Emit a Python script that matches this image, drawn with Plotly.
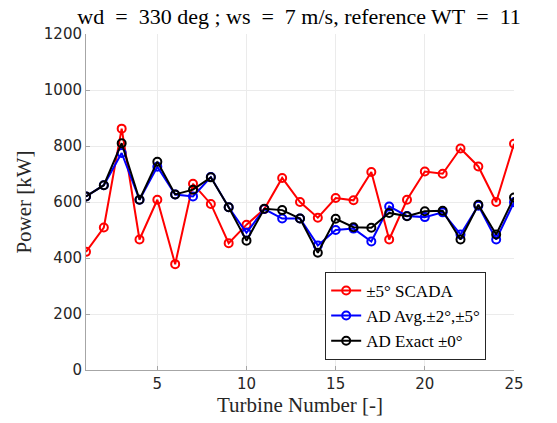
import plotly.graph_objects as go

turbines = list(range(1, 26))

scada = [422, 509, 862, 466, 608, 378, 665, 593, 453, 519, 575, 686, 600,
         544, 614, 606, 707, 466, 608, 709, 701, 791, 727, 600, 808]
ad_avg = [620, 660, 775, 608, 726, 627, 620, 689, 581, 490, 575, 541, 541,
          445, 500, 505, 459, 584, 550, 546, 563, 484, 587, 466, 599]
ad_exact = [620, 660, 810, 608, 744, 627, 644, 688, 581, 462, 576, 571, 541,
            419, 540, 510, 508, 561, 549, 567, 569, 466, 590, 484, 616]

series = [
    ("±5° SCADA", scada, "#ff0000"),
    ("AD Avg.±2°,±5°", ad_avg, "#0000ff"),
    ("AD Exact ±0°", ad_exact, "#000000"),
]

serif = "Liberation Serif"
sans = "DejaVu Sans"
nb = "\u00a0"

fig = go.Figure()
for name, vals, col in series:
    fig.add_trace(go.Scatter(
        x=turbines, y=vals, name=name, mode="lines+markers",
        line=dict(color=col, width=2),
        marker=dict(symbol="circle-open", size=8, color=col, line=dict(width=2, color=col)),
    ))

title_text = f"wd{nb}{nb}={nb}{nb}330 deg ; ws{nb}{nb}={nb}{nb}7 m/s, reference WT{nb}{nb}={nb}{nb}11"

fig.update_layout(
    width=557, height=423,
    margin=dict(l=86, r=43, t=34, b=53),
    paper_bgcolor="white", plot_bgcolor="white",
    title=dict(text=title_text,
               font=dict(family=serif, size=22, color="#000000"),
               x=0.537, xanchor="center", y=0.962, yanchor="middle"),
    showlegend=True,
    legend=dict(x=0.935, y=0.03, xanchor="right", yanchor="bottom",
                bgcolor="white", bordercolor="#262626", borderwidth=1,
                font=dict(family=serif, size=17, color="#000000"),
                tracegroupgap=0, itemwidth=30),
)

axis_common = dict(
    showgrid=True, gridcolor="#ebebeb", gridwidth=1,
    showline=True, linecolor="#a6a6a6", linewidth=1,
    ticks="inside", ticklen=4, tickcolor="#a6a6a6",
    tickfont=dict(family=sans, size=15, color="#262626"),
    zeroline=False, mirror=False,
)

fig.update_xaxes(range=[1, 25], tickvals=[5, 10, 15, 20, 25],
                 title=dict(text="Turbine Number [-]", font=dict(family=serif, size=21, color="#262626"), standoff=4),
                 **axis_common)
fig.update_yaxes(range=[0, 1200], tickvals=[0, 200, 400, 600, 800, 1000, 1200],
                 title=dict(text="Power [kW]", font=dict(family=serif, size=21, color="#262626"), standoff=6),
                 **axis_common)

fig.write_html("out.html")
